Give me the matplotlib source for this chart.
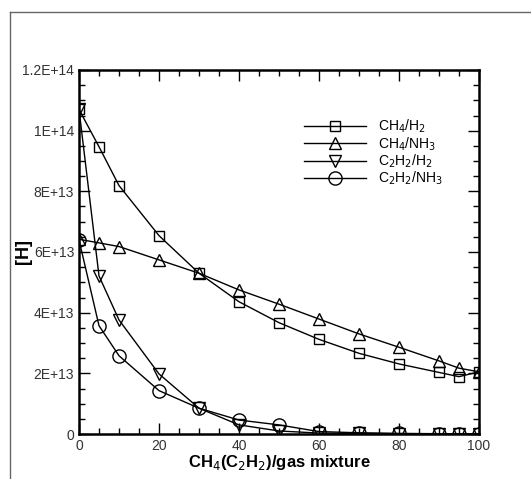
import matplotlib.pyplot as plt
from matplotlib.ticker import MultipleLocator, FuncFormatter
from matplotlib.lines import Line2D

plt.rcParams['font.family'] = ['Liberation Sans', 'DejaVu Sans']

# mixture fraction (%)
x = [0, 5, 10, 20, 30, 40, 50, 60, 70, 80, 90, 95, 100]

# [H] in units of 1e12
ch4_h2 = [107.0, 94.7, 81.9, 65.4, 53.0, 43.6, 36.7, 31.2, 26.6, 23.1, 20.3, 18.9, 20.5]
ch4_nh3 = [64.2, 63.0, 61.8, 57.4, 53.0, 47.5, 42.8, 37.9, 33.0, 28.6, 24.1, 21.7, 20.5]
c2h2_h2 = [107.0, 52.1, 37.6, 19.8, 8.5, 3.0, 1.0, 0.3, 0.2, 0.1, 0.1, 0.1, 0.1]
c2h2_nh3 = [64.0, 35.7, 25.8, 14.3, 8.5, 4.6, 3.0, 0.8, 0.4, 0.2, 0.1, 0.1, 0.05]

labels = [r'CH$_4$/H$_2$', r'CH$_4$/NH$_3$', r'C$_2$H$_2$/H$_2$', r'C$_2$H$_2$/NH$_3$']
markers = ['s', '^', 'v', 'o']
sizes = [7.5, 8.5, 8.5, 9.5]

fig = plt.figure(figsize=(5.31, 4.79), dpi=100)
ax = fig.add_axes([79/531, 1 - 434/479, 400/531, 364/479])

for ys, lab, m, ms in zip([ch4_h2, ch4_nh3, c2h2_h2, c2h2_nh3], labels, markers, sizes):
    ax.plot(x, [v * 1e12 for v in ys], color='black', lw=1.0, marker=m,
            markersize=ms, markerfacecolor='none', markeredgecolor='black',
            markeredgewidth=1.0, label=lab)

ax.set_xlim(0, 100)
ax.set_ylim(0, 1.2e14)
ax.xaxis.set_major_locator(MultipleLocator(20))
ax.xaxis.set_minor_locator(MultipleLocator(5))
ax.yaxis.set_major_locator(MultipleLocator(2e13))
ax.yaxis.set_minor_locator(MultipleLocator(5e12))


def sci(v, pos):
    if v == 0:
        return '0'
    exp = int(f'{v:e}'.split('e')[1])
    mant = v / 10**exp
    return f'{mant:g}E+{exp}'


ax.yaxis.set_major_formatter(FuncFormatter(sci))
ax.tick_params(which='both', direction='in', top=True, right=True,
               labelsize=10, labelcolor='#333333', width=1)
ax.tick_params(which='major', length=8)
ax.tick_params(which='minor', length=4)
for s in ax.spines.values():
    s.set_linewidth(1.8)

ax.set_xlabel(r'CH$_4$(C$_2$H$_2$)/gas mixture', fontsize=12, fontweight='bold', labelpad=0)
ax.set_ylabel('[H]', fontsize=13, fontweight='bold', labelpad=-7)

ax.legend(loc='upper left', bbox_to_anchor=(0.531, 0.903), frameon=False,
          fontsize=10, handlelength=4.5, handletextpad=0.8, labelspacing=0.0)

# outer frame of the original picture
fig.add_artist(Line2D([10/531, 10/531], [0, 1 - 12/479], transform=fig.transFigure,
                      color='#666666', lw=1))
fig.add_artist(Line2D([10/531, 1], [1 - 12/479, 1 - 12/479], transform=fig.transFigure,
                      color='#666666', lw=1))

fig.savefig('out.png', dpi=100)
